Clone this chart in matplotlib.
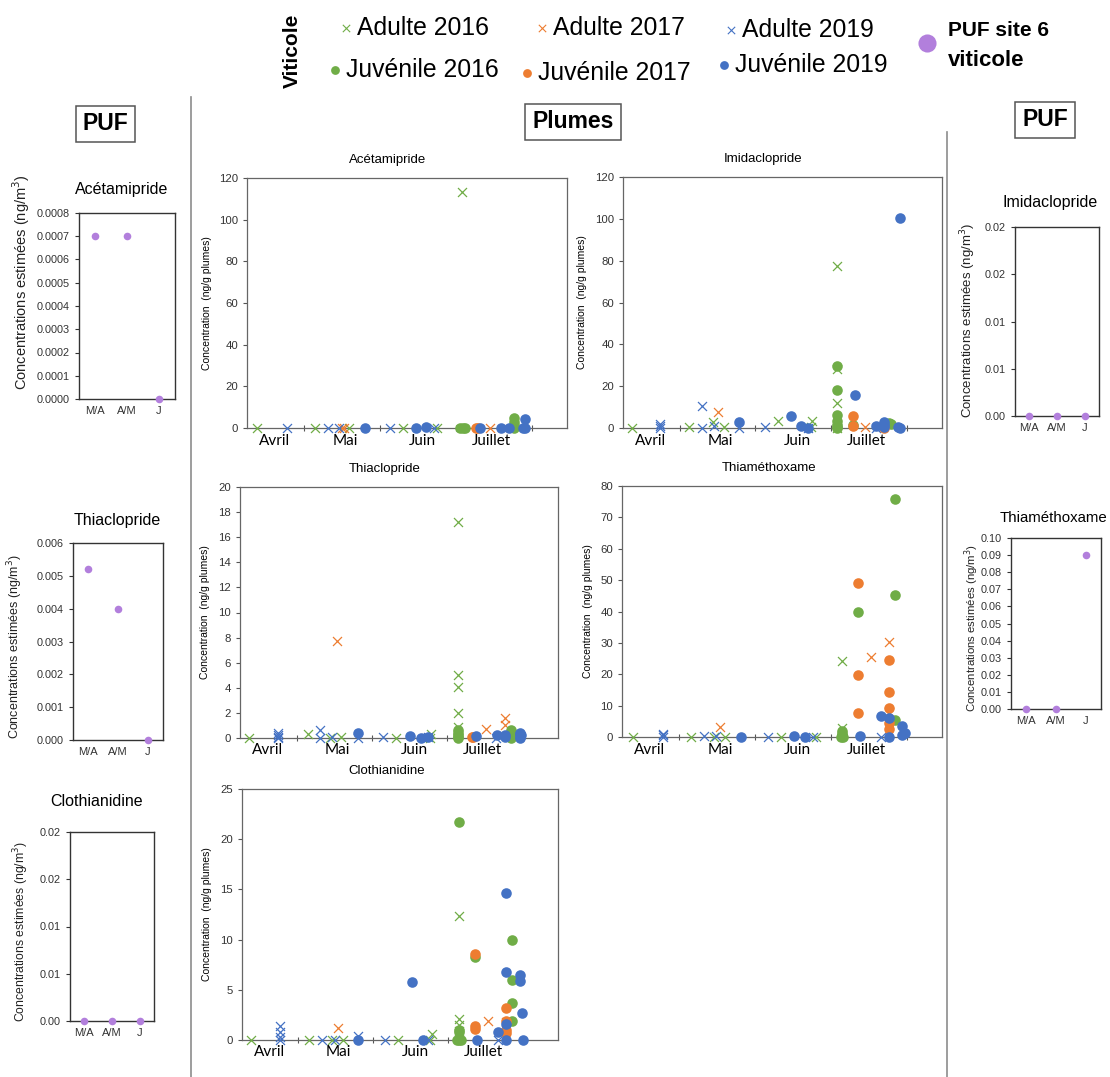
import numpy as np
import matplotlib.pyplot as plt
from matplotlib.ticker import FuncFormatter

plt.rcParams['font.family'] = ['Liberation Sans', 'DejaVu Sans']

#---------- Data : plumes (x = position in season, 0-100) ----------#

months = ['Avril', 'Mai', 'Juin', 'Juillet']
month_pos = [8.6, 30.6, 54.8, 76.3]
month_ticks = [17.8, 41.5, 65.2, 89.0]

series_names = ['Adulte 2016', 'Adulte 2017', 'Adulte 2019',
                'Juvénile 2016', 'Juvénile 2017', 'Juvénile 2019']

# Acétamipride
acet_ad16_x = [3.1, 21.4, 32.0, 48.8, 59.4, 67.2]
acet_ad16_y = [0, 0, 0, 0, 0, 113.5]
acet_ad17_x = [29.7, 30.4, 76.0]
acet_ad17_y = [0, 0, 0]
acet_ad19_x = [12.5, 25.3, 28.6, 44.8, 58.3]
acet_ad19_y = [0, 0, 0, 0, 0]
acet_ju16_x = [66.7, 67.4, 68.0, 83.5, 83.5, 83.5, 83.5]
acet_ju16_y = [0, 0, 0, 0, 1.5, 3.0, 4.6]
acet_ju17_x = [71.7, 72.2]
acet_ju17_y = [0, 0]
acet_ju19_x = [36.8, 52.8, 55.9, 72.9, 79.5, 81.8, 86.1, 86.8, 86.8]
acet_ju19_y = [0, 0, 0.4, 0, 0, 0, 0, 0, 4.5]

# Imidaclopride
imid_ad16_x = [2.9, 20.7, 28.3, 31.6, 48.5, 59.2, 58.8, 67.0, 67.0, 67.0, 67.0]
imid_ad16_y = [0, 0.3, 2.8, 0.3, 3.5, 3.5, 0.3, 77.5, 28.0, 12.0, 0]
imid_ad17_x = [29.8, 75.9]
imid_ad17_y = [7.5, 0.5]
imid_ad19_x = [11.7, 11.7, 11.7, 24.9, 24.9, 28.5, 36.4, 44.5, 58.1, 79.4]
imid_ad19_y = [1.8, 0.8, 0, 10.5, 0.2, 1.0, 0, 0.4, 0, 0.2]
imid_ju16_x = [67.0, 67.0, 67.0, 67.0, 67.0, 67.0, 67.0, 72.0, 83.5, 84.0]
imid_ju16_y = [29.5, 18.0, 6.3, 3.2, 1.5, 0.5, 0, 1.6, 2.6, 1.8]
imid_ju17_x = [72.0, 72.0, 81.7]
imid_ju17_y = [5.9, 1.0, 0]
imid_ju19_x = [36.4, 52.6, 55.7, 58.1, 72.8, 79.4, 81.7, 81.7, 81.7, 86.1, 86.7, 86.7]
imid_ju19_y = [3.0, 5.5, 1.1, 0, 15.6, 1.1, 2.8, 1.2, 0.3, 0.4, 0.2, 100.6]

# Thiaclopride
thcl_ad16_x = [2.9, 21.3, 28.3, 31.7, 49.2, 60.2, 59.7, 68.4, 68.4, 68.4, 68.4, 68.4, 68.4]
thcl_ad16_y = [0, 0.3, 0, 0.1, 0, 0.3, 0, 17.2, 5.0, 4.1, 2.0, 0.9, 0.3]
thcl_ad17_x = [30.4, 77.5, 83.2, 83.2]
thcl_ad17_y = [7.7, 0.7, 1.6, 1.0]
thcl_ad19_x = [12.0, 12.0, 12.0, 12.0, 25.2, 25.2, 29.0, 37.0, 45.0, 59.2, 80.6]
thcl_ad19_y = [0.4, 0.25, 0.1, 0, 0.6, 0, 0.05, 0, 0.1, 0.05, 0]
thcl_ju16_x = [68.4, 68.4, 68.4, 68.4, 68.4, 85.1, 85.1, 85.1, 85.1]
thcl_ju16_y = [0.6, 0.4, 0.2, 0.1, 0, 0.65, 0.4, 0.15, 0]
thcl_ju17_x = [72.8, 73.3]
thcl_ju17_y = [0.1, 0.05]
thcl_ju19_x = [37.0, 53.6, 56.8, 59.2, 74.1, 80.8, 83.2, 83.2, 88.0, 88.0, 88.0, 88.0, 88.5]
thcl_ju19_y = [0.4, 0.15, 0, 0.05, 0.15, 0.2, 0.2, 0.05, 0.4, 0.3, 0.1, 0, 0.2]

# Thiaméthoxame
thmx_ad16_x = [3.4, 21.6, 28.9, 32.3, 49.7, 60.7, 68.75, 68.75, 68.75]
thmx_ad16_y = [0, 0, 0, 0, 0, 0, 24.3, 3.0, 0.5]
thmx_ad17_x = [30.7, 77.8, 83.5, 83.5]
thmx_ad17_y = [3.3, 25.4, 30.2, 8.0]
thmx_ad19_x = [12.8, 12.8, 12.8, 25.7, 29.5, 45.5, 59.6, 81.0]
thmx_ad19_y = [1.0, 0.5, 0, 0.2, 0.2, 0, 0, 0]
thmx_ju16_x = [68.4, 68.75, 68.75, 68.75, 69.1, 73.6, 85.2, 85.2, 85.2]
thmx_ju16_y = [0, 2.0, 1.0, 0.5, 0, 40.0, 75.8, 45.2, 5.3]
thmx_ju17_x = [73.6, 73.6, 73.6, 83.5, 83.5, 83.5, 83.5, 83.5]
thmx_ju17_y = [49.2, 19.8, 7.5, 24.5, 14.2, 9.4, 4.5, 2.6]
thmx_ju19_x = [37.3, 53.9, 57.1, 74.5, 81.0, 83.5, 83.5, 87.5, 87.5, 88.5]
thmx_ju19_y = [0, 0.2, 0, 0.4, 6.7, 6.0, 0, 3.4, 0.6, 1.3]

# Clothianidine
clot_ad16_x = [2.9, 21.1, 28.4, 32.1, 49.3, 59.5, 60.2, 68.6, 68.6, 68.6, 68.6]
clot_ad16_y = [0, 0, 0, 0, 0, 0, 0.6, 12.4, 2.1, 1.5, 0.9]
clot_ad17_x = [30.3, 77.9, 83.7]
clot_ad17_y = [1.15, 1.85, 1.8]
clot_ad19_x = [12.1, 12.1, 12.1, 12.1, 25.3, 29.3, 36.8, 45.3, 58.9, 81.1]
clot_ad19_y = [1.4, 0.8, 0.3, 0, 0, 0, 0.4, 0, 0, 0]
clot_ju16_x = [67.9, 68.6, 68.6, 68.6, 68.6, 69.4, 73.7, 85.6, 85.5, 85.5, 85.5]
clot_ju16_y = [0, 21.7, 1.0, 0.8, 0, 0, 8.3, 10.0, 6.0, 3.65, 1.9]
clot_ju17_x = [73.7, 73.7, 73.7, 83.7, 83.7, 83.7, 83.7]
clot_ju17_y = [8.6, 1.4, 1.1, 3.2, 1.9, 1.0, 0.7]
clot_ju19_x = [36.8, 53.7, 57.2, 74.5, 81.1, 83.7, 83.7, 83.7, 83.7, 87.9, 87.9, 88.7, 88.9]
clot_ju19_y = [0, 5.75, 0, 0, 0.75, 14.6, 6.8, 1.6, 0, 6.5, 5.9, 2.7, 0]

#---------- Data : PUF (ng/m3) ----------#

puf_periods = ['M/A', 'A/M', 'J']
puf_acet = [0.0007, 0.0007, 0.0]
puf_thiaclo = [0.0052, 0.0040, 0.0]
puf_cloth = [0.0, 0.0, 0.0]
puf_imida = [0.0, 0.0, 0.0]
puf_thiam = [0.0, 0.0, 0.09]

#---------- Style ----------#

green, orange, blue = '#70AD47', '#ED7D31', '#4472C4'
purple = '#B27FDC'
series_style = [('x', green), ('x', orange), ('x', blue),
                ('o', green), ('o', orange), ('o', blue)]

W, H = 1110, 1077
fig = plt.figure(figsize=(W / 100, H / 100), dpi=100)


def rect(l, t, r, b):
    return [l / W, 1 - b / H, (r - l) / W, (b - t) / H]


# overlay in pixel coordinates for headers, legend and separators
ov = fig.add_axes([0, 0, 1, 1])
ov.set_xlim(0, W)
ov.set_ylim(H, 0)
ov.axis('off')

ov.plot([191, 191], [97, 1077], color='#8c8c8c', lw=1.2)
ov.plot([947, 947], [132, 1077], color='#8c8c8c', lw=1.2)

box = dict(boxstyle='square,pad=0.3', fc='white', ec='#555555', lw=1.1)
ov.text(105.5, 124, 'PUF', fontsize=16.5, weight='bold', ha='center', va='center', bbox=box)
ov.text(1045, 120, 'PUF', fontsize=16.5, weight='bold', ha='center', va='center', bbox=box)
ov.text(573, 122, 'Plumes', fontsize=16.5, weight='bold', ha='center', va='center', bbox=box)

# legend
ov.text(292, 51, 'Viticole', rotation=90, fontsize=15, weight='bold', ha='center', va='center')
leg_pos = [(346, 28), (542, 28), (731, 30), (335, 70), (527, 73), (724, 65)]
for (lx, ly), name, (mk, col) in zip(leg_pos, series_names, series_style):
    if mk == 'x':
        ov.scatter([lx], [ly], marker='x', s=28, color=col, lw=0.8)
    else:
        ov.scatter([lx], [ly], marker='o', s=40, color=col, lw=0)
    ov.text(lx + 11, ly, name, fontsize=17.8, ha='left', va='center')
ov.scatter([927], [43], marker='o', s=170, color=purple, lw=0)
ov.text(948, 30, 'PUF site 6', fontsize=15, weight='bold', ha='left', va='center')
ov.text(948, 60, 'viticole', fontsize=16, weight='bold', ha='left', va='center')


#---------- Plumes panels ----------#

def plume_panel(l, t, r, b, title, title_x, ymax, ystep, label_x, data):
    ax = fig.add_axes(rect(l, t, r, b))
    for (xs, ys), (mk, col) in zip(data, series_style):
        if mk == 'x':
            ax.scatter(xs, ys, marker='x', s=42, color=col, lw=0.9, clip_on=False, zorder=3)
        else:
            ax.scatter(xs, ys, marker='o', s=58, color=col, lw=0, clip_on=False, zorder=4)
    ax.set_xlim(0, 100)
    ax.set_ylim(0, ymax)
    ax.set_yticks(np.arange(0, ymax + ystep / 2, ystep))
    ax.set_xticks(month_ticks)
    ax.set_xticklabels([])
    ax.tick_params(axis='x', direction='inout', length=5, color='#555555')
    ax.tick_params(axis='y', direction='out', length=3, labelsize=8.2,
                   labelcolor='#333333', color='#555555')
    for sp in ax.spines.values():
        sp.set_color('#666666')
        sp.set_linewidth(0.9)
    ax.set_ylabel('Concentration  (ng/g plumes)', fontsize=7.5)
    ax.yaxis.label.set_verticalalignment('center')
    ax.yaxis.set_label_coords((label_x - l) / (r - l), 0.5)
    ax.text((title_x - l) / (r - l), 1 + 18 / (b - t), title, transform=ax.transAxes,
            ha='center', va='center', fontsize=9.5)
    for xm, name in zip(month_pos, months):
        ax.annotate(name, xy=(xm, 0), xycoords=('data', 'axes fraction'),
                    xytext=(0, -9), textcoords='offset points',
                    ha='center', va='center', fontsize=11, family='Lato')
    return ax


plume_panel(247, 178, 567, 428, 'Acétamipride', 388, 120, 20, 207,
            [(acet_ad16_x, acet_ad16_y), (acet_ad17_x, acet_ad17_y), (acet_ad19_x, acet_ad19_y),
             (acet_ju16_x, acet_ju16_y), (acet_ju17_x, acet_ju17_y), (acet_ju19_x, acet_ju19_y)])
plume_panel(623, 177, 942, 428, 'Imidaclopride', 763, 120, 20, 582,
            [(imid_ad16_x, imid_ad16_y), (imid_ad17_x, imid_ad17_y), (imid_ad19_x, imid_ad19_y),
             (imid_ju16_x, imid_ju16_y), (imid_ju17_x, imid_ju17_y), (imid_ju19_x, imid_ju19_y)])
plume_panel(240, 487, 558, 738, 'Thiaclopride', 385, 20, 2, 205,
            [(thcl_ad16_x, thcl_ad16_y), (thcl_ad17_x, thcl_ad17_y), (thcl_ad19_x, thcl_ad19_y),
             (thcl_ju16_x, thcl_ju16_y), (thcl_ju17_x, thcl_ju17_y), (thcl_ju19_x, thcl_ju19_y)])
plume_panel(622, 486, 942, 737, 'Thiaméthoxame', 769, 80, 10, 588,
            [(thmx_ad16_x, thmx_ad16_y), (thmx_ad17_x, thmx_ad17_y), (thmx_ad19_x, thmx_ad19_y),
             (thmx_ju16_x, thmx_ju16_y), (thmx_ju17_x, thmx_ju17_y), (thmx_ju19_x, thmx_ju19_y)])
plume_panel(242, 789, 558, 1040, 'Clothianidine', 387, 25, 5, 207,
            [(clot_ad16_x, clot_ad16_y), (clot_ad17_x, clot_ad17_y), (clot_ad19_x, clot_ad19_y),
             (clot_ju16_x, clot_ju16_y), (clot_ju17_x, clot_ju17_y), (clot_ju19_x, clot_ju19_y)])


#---------- PUF panels ----------#

def puf_panel(l, t, r, b, title, title_x, title_gap, title_size, values,
              ymax, ystep, dec, label_x, label_y, label_size):
    ax = fig.add_axes(rect(l, t, r, b))
    ax.scatter(range(len(values)), values, s=30, color=purple, lw=0, clip_on=False, zorder=4)
    ax.set_xlim(-0.5, 2.5)
    ax.set_ylim(0, ymax)
    ax.set_yticks(np.arange(0, ymax + ystep / 2, ystep))
    ax.yaxis.set_major_formatter(FuncFormatter(lambda v, p: f"{round(v + 1e-12, dec):.{dec}f}"))
    ax.set_xticks(range(len(puf_periods)))
    ax.set_xticklabels(puf_periods)
    ax.tick_params(axis='x', length=0, labelsize=8, labelcolor='#333333', pad=5)
    ax.tick_params(axis='y', direction='out', length=3, labelsize=7.8,
                   labelcolor='#333333', color='#333333')
    for sp in ax.spines.values():
        sp.set_color('#333333')
        sp.set_linewidth(1.0)
    ax.set_ylabel('Concentrations estimées (ng/m$^3$)', fontsize=label_size, color='#222222')
    ax.yaxis.label.set_verticalalignment('center')
    ax.yaxis.set_label_coords((label_x - l) / (r - l), (b - label_y) / (b - t))
    ax.text((title_x - l) / (r - l), 1 + title_gap / (b - t), title, transform=ax.transAxes,
            ha='center', va='center', fontsize=title_size)
    return ax


puf_panel(79, 213, 175, 399, 'Acétamipride', 122, 23, 11.5, puf_acet,
          0.0008, 0.0001, 4, 21, 282, 10.5)
puf_panel(73, 543, 163, 740, 'Thiaclopride', 117, 23, 11.5, puf_thiaclo,
          0.006, 0.001, 3, 15, 647, 9.0)
puf_panel(70, 832, 154, 1021, 'Clothianidine', 97, 30, 11.5, puf_cloth,
          0.02, 0.005, 2, 21, 932, 8.8)
puf_panel(1015, 227, 1099, 416, 'Imidaclopride', 1050, 24, 11.5, puf_imida,
          0.02, 0.005, 2, 968, 320, 9.5)
puf_panel(1011, 538, 1101, 709, 'Thiaméthoxame', 1053, 20, 10.8, puf_thiam,
          0.10, 0.01, 2, 972, 628, 8.2)

plt.savefig('out.png', dpi=100)
